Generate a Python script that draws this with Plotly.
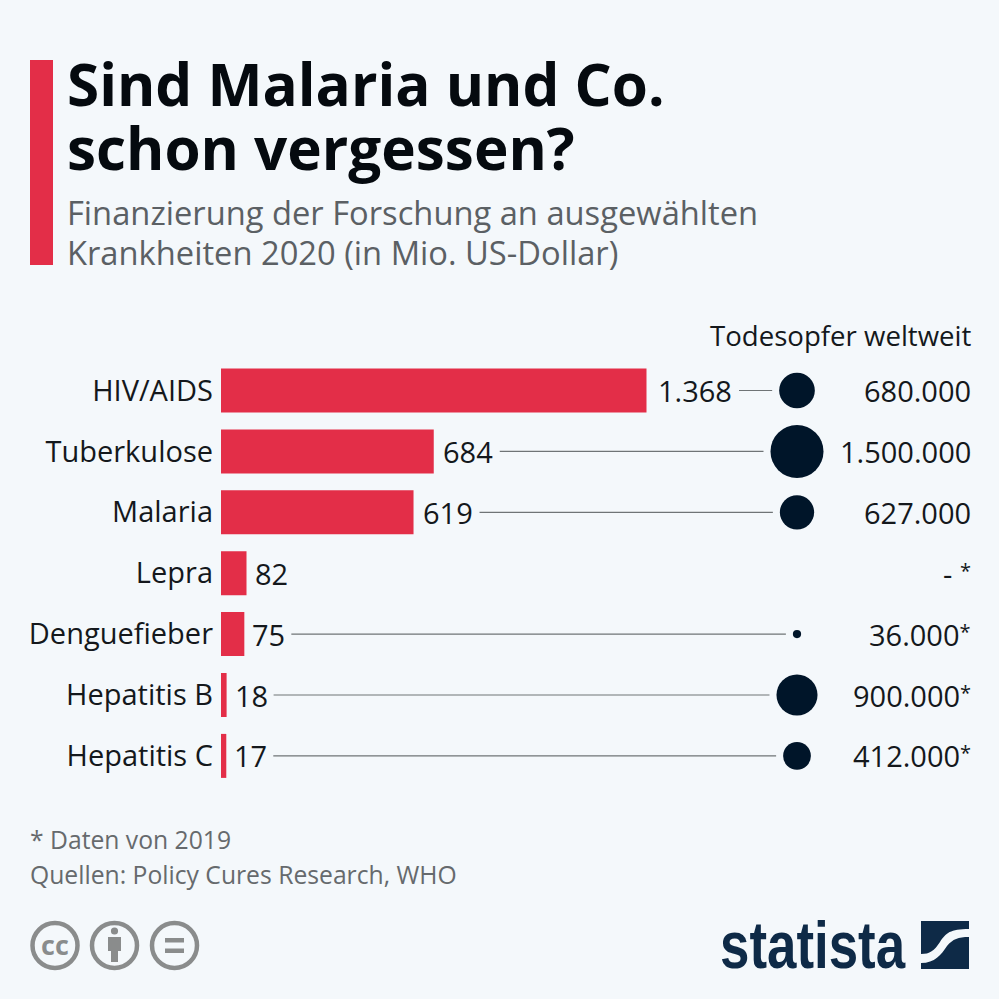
import plotly.graph_objects as go

STAR = "<span style='font-size:20px;baseline-shift:7px'>*</span>"
categories = ["HIV/AIDS", "Tuberkulose", "Malaria", "Lepra", "Denguefieber", "Hepatitis B", "Hepatitis C"]
funding = [1368, 684, 619, 82, 75, 18, 17]
deaths = [680000, 1500000, 627000, None, 36000, 900000, 412000]
death_marks = ["", "", "", " " + STAR, STAR, STAR, STAR]
title_lines = ["Sind Malaria und Co.", "schon vergessen?"]
subtitle_lines = ["Finanzierung der Forschung an ausgewählten", "Krankheiten 2020 (in Mio. US-Dollar)"]
column_title = "Todesopfer weltweit"
footnotes = ["* Daten von 2019", "Quellen: Policy Cures Research, WHO"]

S = 999
BG = "#f4f8fb"
RED = "#e32e48"
NAVY = "#001529"
LOGO = "#0e2a47"
GREY = "#8a8c8c"
FONT = "Open Sans"
PX_PER_UNIT = 425.5 / 1368
X0 = 221
ROW0, ROW = 390.5, 60.9
BUBBLE_X = 797
MAX_D = 53
LABEL = 29


def fmt(v):
    return f"{v:,}".replace(",", ".")


def px(x):
    return x / S


def py(y):
    return 1 - y / S


def diam(v):
    return MAX_D * (v / max(d for d in deaths if d)) ** 0.5


fig = go.Figure()
fig.add_trace(go.Bar(x=funding, y=categories, orientation="h", width=44 / ROW,
                     marker=dict(color=RED, line=dict(width=0)), hoverinfo="skip"))

# connector lines, from behind the value label to just before the bubble
offset = {1: 47, 2: 47, 3: 66, 4: 92.5}
for c, f, d in zip(categories, funding, deaths):
    if d is None:
        continue
    start = X0 + f * PX_PER_UNIT + offset[len(str(f))]
    end = BUBBLE_X - diam(d) / 2 - 7
    fig.add_trace(go.Scatter(x=[start, end], y=[c, c], xaxis="x2", mode="lines",
                             line=dict(color="#6f7476", width=1.2), hoverinfo="skip"))

bc = [c for c, d in zip(categories, deaths) if d]
bd = [d for d in deaths if d]
fig.add_trace(go.Scatter(x=[BUBBLE_X] * len(bc), y=bc, xaxis="x2", mode="markers", hoverinfo="skip",
                         marker=dict(color=NAVY, opacity=1, size=bd, sizemode="area",
                                     sizeref=2 * max(bd) / MAX_D ** 2, line=dict(width=0))))

ann = []


def text(x, y, s, size, color, anchor="left", bold=False, family=FONT):
    ann.append(dict(x=px(x), y=py(y), xref="paper", yref="paper", text=f"<b>{s}</b>" if bold else s,
                    showarrow=False, xanchor=anchor, yanchor="middle", borderpad=0, borderwidth=0,
                    font=dict(family=family, size=size, color=color)))


for i, l in enumerate(title_lines):
    text(67, 84 + 63 * i, l, 58.4, "#050a0f", bold=True)
for i, l in enumerate(subtitle_lines):
    text(67, 213 + 39.5 * i, l, 32.7, "#5b6064")
text(972, 335, column_title, 27.6, "#14181c", "right")
for i, l in enumerate(footnotes):
    text(30, 839 + 35 * i, l, 24.7, "#666a6d")

label_shift = {2: 7, 3: 8, 4: 10}
for c, f, d, m in zip(categories, funding, deaths, death_marks):
    ann.append(dict(x=f, y=c, xref="x", yref="y", text=fmt(f), showarrow=False, xanchor="left",
                    xshift=label_shift[len(str(f))], yanchor="middle", borderpad=0,
                    font=dict(family=FONT, size=LABEL, color="#14181c")))
    ann.append(dict(x=px(972), y=c, xref="paper", yref="y", text=(fmt(d) if d else "-") + m,
                    showarrow=False, xanchor="right", yanchor="middle", borderpad=0,
                    font=dict(family=FONT, size=LABEL, color="#14181c")))

# CC icons
shapes = []


def circle(cx, cy, r, fill=None, lw=0, color=GREY):
    shapes.append(dict(type="circle", xref="paper", yref="paper", x0=px(cx - r), x1=px(cx + r),
                       y0=py(cy + r), y1=py(cy - r), fillcolor=fill or "rgba(0,0,0,0)",
                       line=dict(color=color, width=lw)))


def rect(x0, y0, x1, y1, color):
    shapes.append(dict(type="rect", xref="paper", yref="paper", x0=px(x0), x1=px(x1), y0=py(y1), y1=py(y0),
                       fillcolor=color, line=dict(width=0)))


def path(pts, color):
    d = ""
    for cmd, *coords in pts:
        d += cmd + " ".join(f"{px(coords[i]):.5f},{py(coords[i + 1]):.5f}" for i in range(0, len(coords), 2)) + " "
    shapes.append(dict(type="path", xref="paper", yref="paper", path=d + "Z", fillcolor=color, line=dict(width=0)))


rect(30, 60, 53, 265, RED)
for cx in (55, 114.5, 174.5):
    circle(cx, 945.5, 22.5, lw=4.5)
text(55, 944, "cc", 27, GREY, "center", bold=True)
circle(114.5, 931, 3.6, fill=GREY)
path([("M", 108, 937), ("L", 121, 937), ("L", 121, 951), ("L", 118, 951), ("L", 118, 962),
      ("L", 111, 962), ("L", 111, 951), ("L", 108, 951)], GREY)
rect(165, 938, 184, 942.5, GREY)
rect(165, 948.5, 184, 953, GREY)

# Statista logo
text(812.5, 945, "statista", 66, LOGO, "center", bold=True, family="Liberation Sans")
path([("M", 921, 921), ("L", 969, 921), ("L", 969, 929), ("C", 950, 929, 946, 933, 940, 942),
      ("C", 934, 951, 930, 954, 921, 954)], LOGO)
path([("M", 969, 937), ("L", 969, 969), ("L", 921, 969), ("L", 921, 963), ("C", 935, 963, 941, 955, 947, 946),
      ("C", 953, 939, 958, 937, 969, 937)], LOGO)

fig.update_layout(
    width=S, height=S, margin=dict(l=0, r=0, t=0, b=0), autosize=False,
    paper_bgcolor=BG, plot_bgcolor="rgba(0,0,0,0)", showlegend=False,
    xaxis=dict(domain=[X0 / S, 1], range=[0, (S - X0) / PX_PER_UNIT], visible=False, fixedrange=True),
    xaxis2=dict(range=[X0, S], visible=False, overlaying="x", anchor="y", fixedrange=True),
    yaxis=dict(type="category", categoryorder="array", categoryarray=categories,
               tickmode="array", tickvals=categories, ticktext=categories,
               range=[(S - ROW0) / ROW, -ROW0 / ROW], showgrid=False, zeroline=False, showline=False,
               ticks="", ticklabelstandoff=7, automargin=False, fixedrange=True,
               tickfont=dict(family=FONT, size=LABEL, color="#14181c")),
    annotations=ann, shapes=shapes,
)
post = """
document.body.style.margin='0';document.body.style.background='%s';
document.querySelectorAll('.annotation-text').forEach(function(t){
  if(t.textContent==='statista'){
    t.setAttribute('textLength','185');t.setAttribute('lengthAdjust','spacingAndGlyphs');
    t.querySelectorAll('tspan').forEach(function(s){s.setAttribute('textLength','185');s.setAttribute('lengthAdjust','spacingAndGlyphs');});
  }
});
""" % BG
fig.write_html("out.html", config={"displayModeBar": False}, post_script=post)
